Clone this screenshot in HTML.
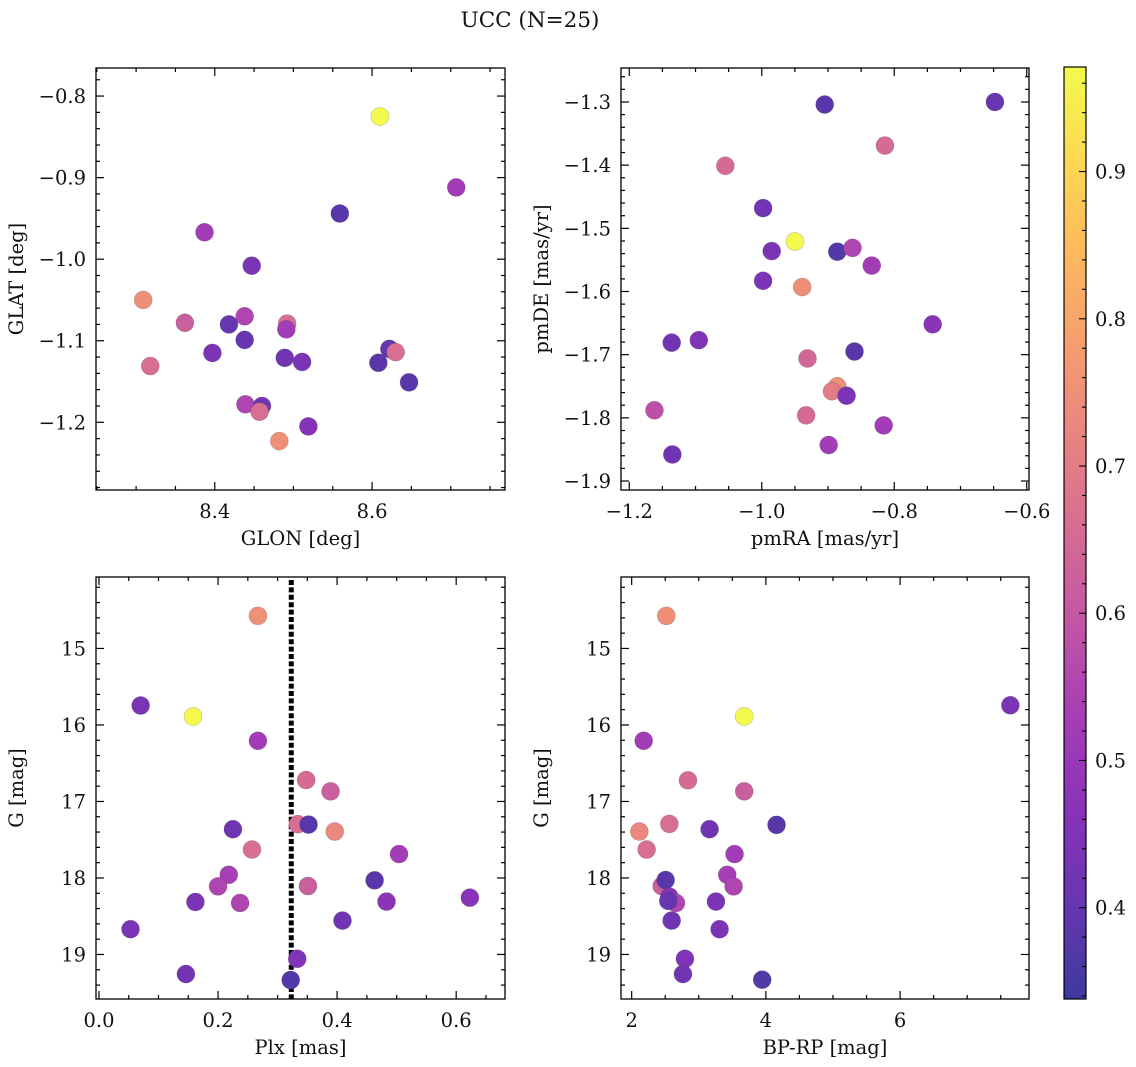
<!DOCTYPE html>
<html><head><meta charset="utf-8">
<style>
html,body{margin:0;padding:0;background:#fff;}
svg{display:block;font-family:"DejaVu Serif","Liberation Serif",serif;}
</style></head>
<body>
<svg id="fig" width="1136" height="1067" viewBox="0 0 1136 1067" xmlns="http://www.w3.org/2000/svg">
<text x="530" y="27" text-anchor="middle" font-size="21.5" fill="#111">UCC (N=25)</text>
</svg>
<script>
// ---- data ----
const glon = [8.610,8.707,8.559,8.387,8.447,8.309,8.362,8.438,8.418,8.492,8.491,8.438,8.397,8.318,8.489,8.511,8.622,8.630,8.608,8.647,8.439,8.460,8.457,8.482,8.519];
const glat = [-0.825,-0.912,-0.944,-0.967,-1.008,-1.050,-1.078,-1.070,-1.080,-1.079,-1.086,-1.099,-1.115,-1.131,-1.121,-1.126,-1.110,-1.114,-1.127,-1.151,-1.178,-1.180,-1.187,-1.223,-1.205];
const cTop1 = [0.97,0.52,0.38,0.52,0.44,0.75,0.62,0.55,0.40,0.66,0.52,0.40,0.44,0.66,0.42,0.44,0.40,0.66,0.38,0.38,0.55,0.42,0.66,0.75,0.46];
const pmra = [-0.905,-0.648,-0.814,-1.055,-0.998,-0.950,-0.985,-0.886,-0.863,-0.834,-0.998,-0.939,-0.742,-1.136,-1.095,-0.860,-0.931,-0.886,-0.894,-0.872,-1.162,-0.933,-0.816,-0.899,-1.135];
const pmde = [-1.304,-1.300,-1.369,-1.401,-1.468,-1.521,-1.536,-1.537,-1.531,-1.559,-1.583,-1.593,-1.652,-1.681,-1.677,-1.695,-1.706,-1.750,-1.758,-1.765,-1.788,-1.796,-1.812,-1.843,-1.858];
const cTop2 = [0.38,0.40,0.65,0.65,0.42,0.97,0.44,0.37,0.55,0.52,0.44,0.75,0.47,0.42,0.45,0.38,0.64,0.75,0.70,0.44,0.58,0.65,0.52,0.52,0.42];
const plx = [0.267,0.070,0.158,0.267,0.348,0.389,0.334,0.352,0.396,0.225,0.257,0.504,0.218,0.200,0.351,0.463,0.162,0.237,0.483,0.623,0.409,0.053,0.333,0.146,0.322];
const gmag = [14.574,15.746,15.890,16.207,16.720,16.868,17.297,17.302,17.393,17.363,17.628,17.688,17.958,18.110,18.105,18.031,18.314,18.327,18.309,18.257,18.557,18.670,19.056,19.256,19.334];
const cBot1 = [0.75,0.44,0.97,0.52,0.65,0.62,0.66,0.38,0.73,0.42,0.66,0.52,0.53,0.55,0.62,0.38,0.44,0.55,0.47,0.47,0.42,0.44,0.45,0.42,0.37];
const bprp = [2.516,7.643,3.677,2.179,2.839,3.677,2.561,4.159,2.114,3.161,2.223,3.533,3.424,3.519,2.447,2.506,2.561,2.660,3.256,2.546,2.596,3.310,2.794,2.764,3.945];
const gmag2 = [14.574,15.743,15.890,16.207,16.724,16.868,17.293,17.306,17.393,17.363,17.628,17.688,17.958,18.110,18.105,18.027,18.244,18.327,18.309,18.300,18.557,18.670,19.056,19.256,19.330];
const cBot2 = [0.75,0.44,0.97,0.52,0.65,0.62,0.66,0.38,0.73,0.42,0.66,0.52,0.53,0.55,0.62,0.38,0.47,0.55,0.44,0.40,0.42,0.44,0.45,0.42,0.37];
const plxLine = [0.323];
const cbarTicks = [0.4,0.5,0.6,0.7,0.8,0.9];
const cmin = 0.338, cmax = 0.971;

const NS = "http://www.w3.org/2000/svg";
const svg = document.getElementById('fig');
const FS = 19.5;
function mk(tag, attrs, parent){const e=document.createElementNS(NS,tag);for(const k in attrs)e.setAttribute(k,attrs[k]);(parent||svg).appendChild(e);return e;}

const plasma=[[13,8,135],[65,4,157],[106,0,168],[143,13,164],[177,42,144],[204,71,120],[225,100,98],[242,132,75],[252,166,54],[252,206,37],[240,249,33]];
function cmap(v){let t=(v-cmin)/(cmax-cmin);t=Math.max(0,Math.min(1,t));const p=t*10,i=Math.min(9,Math.floor(p)),f=p-i;
  const c=plasma[i].map((a,k)=>a+(plasma[i+1][k]-a)*f).map(a=>Math.round(a*0.8+255*0.2));return `rgb(${c[0]},${c[1]},${c[2]})`;}
function fmt(v,d){const s=Math.abs(v).toFixed(d);return (v<-1e-9?'\u2212':'')+s;}

function panel(cfg){
  const {x0,y0,x1,y1}=cfg;
  const sx=v=>x0+(v-cfg.xd[0])/(cfg.xd[1]-cfg.xd[0])*(x1-x0);
  const sy=v=>y1-(v-cfg.yd[0])/(cfg.yd[1]-cfg.yd[0])*(y1-y0);
  const g=mk('g',{});
  
  
  const ticks=mk('g',{stroke:'#000','stroke-width':1.2},g);
  
  
  const lo=(a,b)=>Math.min(a,b),hi=(a,b)=>Math.max(a,b);
  const xa=lo(...cfg.xd),xb=hi(...cfg.xd),ya=lo(...cfg.yd),yb=hi(...cfg.yd);
  for(let v=Math.ceil(xa/cfg.xm-1e-6)*cfg.xm;v<=xb+1e-9;v+=cfg.xm){const X=sx(v);const maj=Math.abs(v/cfg.xM-Math.round(v/cfg.xM))<1e-6;const L=maj?8:4;
    mk('line',{x1:X,x2:X,y1:y1,y2:y1-L},ticks);mk('line',{x1:X,x2:X,y1:y0,y2:y0+L},ticks);
    if(maj){const t=mk('text',{x:X,y:y1+28,'text-anchor':'middle','font-size':FS,fill:'#111',stroke:'none'},g);t.textContent=fmt(v,cfg.xdec);
      }}
  for(let v=Math.ceil(ya/cfg.ym-1e-6)*cfg.ym;v<=yb+1e-9;v+=cfg.ym){const Y=sy(v);const maj=Math.abs(v/cfg.yM-Math.round(v/cfg.yM))<1e-6;const L=maj?8:4;
    mk('line',{x1:x0,x2:x0+L,y1:Y,y2:Y},ticks);mk('line',{x1:x1,x2:x1-L,y1:Y,y2:Y},ticks);
    if(maj){const t=mk('text',{x:x0-10,y:Y+7,'text-anchor':'end','font-size':FS,fill:'#111'},g);t.textContent=fmt(v,cfg.ydec);
      }}
  if(cfg.vline){for(const v of cfg.vline){const l=mk('line',{x1:sx(v),x2:sx(v),y1:y0+3,y2:y1,stroke:'#000','stroke-width':5,'stroke-dasharray':'5 2.4'},g);
    }}
  cfg.xs.forEach((xv,i)=>{const c=mk('circle',{cx:sx(xv),cy:sy(cfg.ys[i]),r:9,fill:cmap(cfg.cs[i]),stroke:'rgba(60,60,60,0.3)','stroke-width':0.6},g);
    });
  const fr=mk('rect',{x:x0,y:y0,width:x1-x0,height:y1-y0,fill:'none',stroke:'#000','stroke-width':1.3},g);
  
  const xl=mk('text',{x:(x0+x1)/2,y:y1+55,'text-anchor':'middle','font-size':FS,fill:'#111'},g);xl.textContent=cfg.xlab;
  
  const yx=x0-73,yy=(y0+y1)/2;
  const yl=mk('text',{x:yx,y:yy,'text-anchor':'middle','font-size':FS,fill:'#111',transform:`rotate(-90 ${yx} ${yy})`},g);yl.textContent=cfg.ylab;
  
}

panel({name:'glon-glat-panel',x0:96,y0:68,x1:505,y1:490,xd:[8.249,8.769],yd:[-1.283,-0.7656],xM:0.2,xm:0.05,yM:0.1,ym:0.02,xdec:1,ydec:1,xs:glon,ys:glat,cs:cTop1,xlab:'GLON [deg]',ylab:'GLAT [deg]'});
panel({name:'pm-panel',x0:621,y0:68,x1:1029,y1:490,xd:[-1.2125,-0.5966],yd:[-1.9142,-1.2462],xM:0.2,xm:0.05,yM:0.1,ym:0.02,xdec:1,ydec:1,xs:pmra,ys:pmde,cs:cTop2,xlab:'pmRA [mas/yr]',ylab:'pmDE [mas/yr]'});
panel({name:'plx-g-panel',x0:96,y0:577,x1:505,y1:999,xd:[-0.005,0.682],yd:[19.582,14.066],xM:0.2,xm:0.05,yM:1,ym:0.2,xdec:1,ydec:0,xs:plx,ys:gmag,cs:cBot1,vline:plxLine,xlab:'Plx [mas]',ylab:'G [mag]'});
panel({name:'cmd-panel',x0:621,y0:577,x1:1029,y1:999,xd:[1.841,7.921],yd:[19.582,14.066],xM:2,xm:0.5,yM:1,ym:0.2,xdec:0,ydec:0,xs:bprp,ys:gmag2,cs:cBot2,xlab:'BP-RP [mag]',ylab:'G [mag]'});

// colorbar
(function(){
  const X0=1064,X1=1086,Y0=67,Y1=999;
  const sc=v=>Y1-(v-cmin)/(cmax-cmin)*(Y1-Y0);
  const g=mk('g',{});
  
  
  const defs=mk('defs',{},g);const lg=mk('linearGradient',{id:'cb',x1:0,y1:1,x2:0,y2:0},defs);
  for(let i=0;i<=20;i++){const v=cmin+(cmax-cmin)*i/20;mk('stop',{offset:(i/20),'stop-color':cmap(v)},lg);}
  mk('rect',{x:X0,y:Y0,width:X1-X0,height:Y1-Y0,fill:'url(#cb)',stroke:'#000','stroke-width':1.2},g);
  for(let v=0.34;v<=0.97;v+=0.02){const Y=sc(v);const maj=Math.abs(v*10-Math.round(v*10))<1e-6;mk('line',{x1:X1,x2:X1-(maj?7:4),y1:Y,y2:Y,stroke:'#000','stroke-width':1.1},g);}
  cbarTicks.forEach(v=>{const Y=sc(v);const t=mk('text',{x:X1+9,y:Y+7,'font-size':FS,fill:'#111'},g);t.textContent=v.toFixed(1);
    });
})();
</script>
</body></html>
